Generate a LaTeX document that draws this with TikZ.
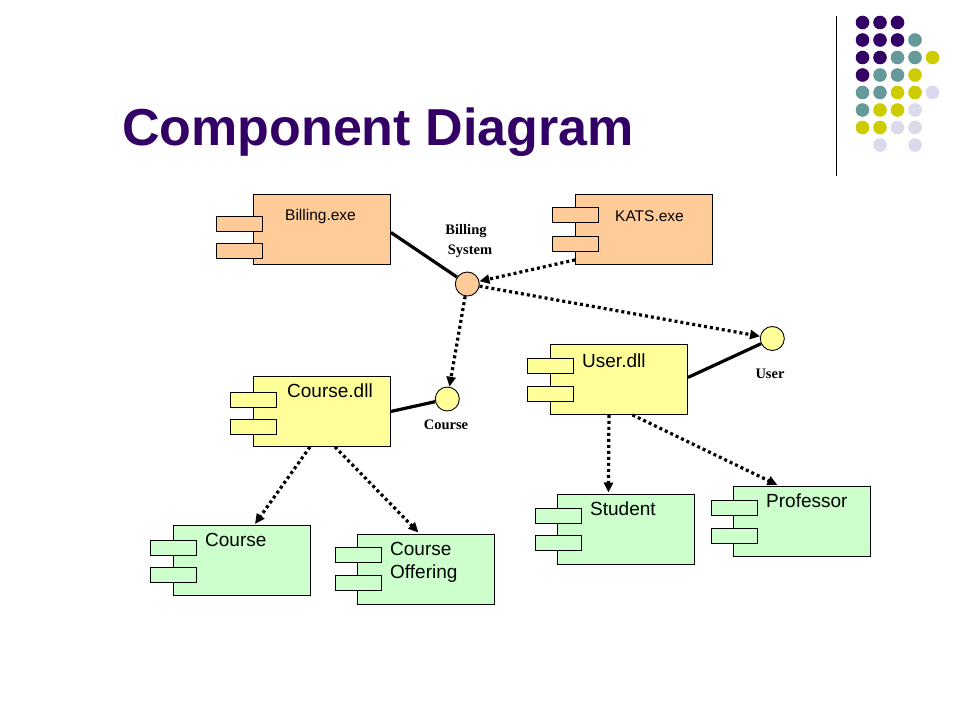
\documentclass[tikz,border=0pt]{standalone}
\usepackage{fontspec}
\setmainfont{Liberation Sans}
\newfontfamily\serifb{Liberation Serif}
\usetikzlibrary{arrows.meta,calc}
\definecolor{titlepurple}{HTML}{330066}
\definecolor{dotteal}{HTML}{669999}
\definecolor{dotyellow}{HTML}{CCCC00}
\definecolor{dotlav}{HTML}{DADAEC}
\definecolor{exefill}{HTML}{FFCC99}
\definecolor{dllfill}{HTML}{FFFF99}
\definecolor{clsfill}{HTML}{CCFFCC}
\begin{document}
\begin{tikzpicture}[x=1pt,y=-1pt,
  comp/.style={draw=black, line width=0.9pt, minimum width=137pt, minimum height=70pt, inner sep=0pt, anchor=north west},
  tabbox/.style={draw=black, line width=0.9pt, minimum width=46pt, minimum height=15pt, inner sep=0pt, anchor=north west},
  iface/.style={circle, draw=black, line width=0.9pt, minimum size=24pt, inner sep=0pt},
  smalltxt/.style={inner sep=0pt, anchor=base west, font=\fontsize{15.5}{18}\selectfont},
  bigtxt/.style={inner sep=0pt, anchor=base west, font=\fontsize{19}{24}\selectfont},
  ifacetxt/.style={inner sep=0pt, anchor=base, font=\serifb\bfseries\fontsize{14.5}{20}\selectfont},
  solidlink/.style={line width=3.2pt},
  deplink/.style={line width=3.2pt, dash pattern=on 3pt off 3pt, -{Triangle[length=10pt,width=9pt]}},
  dotP/.style={fill=titlepurple},
  dotT/.style={fill=dotteal},
  dotY/.style={fill=dotyellow},
  dotL/.style={fill=dotlav}]
\useasboundingbox (0,0) rectangle (960,720);
\fill[white] (0,0) rectangle (960,720);

% title
\node[inner sep=0pt, anchor=base west, text=titlepurple, font=\bfseries\fontsize{52}{60}\selectfont] (title) at (122,145) {Component Diagram};

% decoration
\draw[line width=1.3pt] (836.5,16) -- (836.5,176);
\foreach \c/\x/\y in {P/0/0,P/1/0,P/2/0,
  P/0/1,P/1/1,P/2/1,T/3/1,
  P/0/2,P/1/2,T/2/2,T/3/2,Y/4/2,
  P/0/3,T/1/3,T/2/3,Y/3/3,
  T/0/4,T/1/4,Y/2/4,Y/3/4,L/4/4,
  T/0/5,Y/1/5,Y/2/5,L/3/5,
  Y/0/6,Y/1/6,L/2/6,L/3/6,
  L/1/7,L/3/7}
  \fill[dot\c] ({862.5+17.5*\x},{22.5+17.5*\y}) circle (6.8);

% components
\node[comp, fill=exefill] (billing) at (253,194) {};
\node[tabbox, fill=exefill] (billing-t1) at (216,216) {};
\node[tabbox, fill=exefill] (billing-t2) at (216,243) {};
\node[smalltxt] (billing-l) at (285,220) {Billing.exe};

\node[comp, fill=exefill] (kats) at (575,194) {};
\node[tabbox, fill=exefill] (kats-t1) at (552,207) {};
\node[tabbox, fill=exefill] (kats-t2) at (552,235.5) {};
\node[smalltxt] (kats-l) at (615,221) {KATS.exe};

\node[comp, fill=dllfill] (coursedll) at (253,376) {};
\node[tabbox, fill=dllfill] (coursedll-t1) at (230,391.5) {};
\node[tabbox, fill=dllfill] (coursedll-t2) at (230,418.5) {};
\node[bigtxt] (coursedll-l) at (287,397.5) {Course.dll};

\node[comp, fill=dllfill] (userdll) at (550,344) {};
\node[tabbox, fill=dllfill] (userdll-t1) at (527,358) {};
\node[tabbox, fill=dllfill] (userdll-t2) at (527,385.5) {};
\node[bigtxt] (userdll-l) at (582,367.5) {User.dll};

\node[comp, fill=clsfill] (course) at (173,525) {};
\node[tabbox, fill=clsfill] (course-t1) at (150,539.5) {};
\node[tabbox, fill=clsfill] (course-t2) at (150,567) {};
\node[bigtxt] (course-l) at (205,546.5) {Course};

\node[comp, fill=clsfill] (offering) at (357,533.5) {};
\node[tabbox, fill=clsfill] (offering-t1) at (334.5,547) {};
\node[tabbox, fill=clsfill] (offering-t2) at (334.5,575) {};
\node[bigtxt] (offering-l1) at (390,555) {Course};
\node[bigtxt] (offering-l2) at (390,578.5) {Offering};

\node[comp, fill=clsfill] (student) at (557,493.5) {};
\node[tabbox, fill=clsfill] (student-t1) at (535,507.5) {};
\node[tabbox, fill=clsfill] (student-t2) at (535,535) {};
\node[bigtxt] (student-l) at (590,515) {Student};

\node[comp, fill=clsfill] (professor) at (733,486) {};
\node[tabbox, fill=clsfill] (professor-t1) at (711,499.5) {};
\node[tabbox, fill=clsfill] (professor-t2) at (711,527.5) {};
\node[bigtxt] (professor-l) at (766,507.5) {Professor};

% interfaces
\node[iface, fill=exefill] (bsys) at (467.3,284) {};
\node[iface, fill=dllfill] (useri) at (772.3,338.5) {};
\node[iface, fill=dllfill] (coursei) at (447.3,399) {};
\node[ifacetxt] (bsys-l1) at (466,234.5) {Billing};
\node[ifacetxt] (bsys-l2) at (470,254.5) {System};
\node[ifacetxt] (useri-l) at (770,378.5) {User};
\node[ifacetxt] (coursei-l) at (446,429.5) {Course};

% connectors
\draw[solidlink] ($(billing.east)+(0,3)$) -- (bsys);
\draw[solidlink] ($(userdll.east)+(0,-2)$) -- (useri);
\draw[solidlink] (coursedll.east) -- (coursei);
\draw[deplink] ($(kats.south west)+(0,-5)$) -- (bsys);
\draw[deplink] (bsys) -- (useri);
\draw[deplink] (bsys) -- (coursei);
\draw[deplink] ($(coursedll.south)+(-12,0)$) -- ($(course.north)+(13,-1)$);
\draw[deplink] ($(coursedll.south)+(13,0)$) -- ($(offering.north)+(-7.5,-1)$);
\draw[deplink] ($(userdll.south)+(-10,0)$) -- ($(student.north)+(-17.5,-1)$);
\draw[deplink] ($(userdll.south)+(13.5,0)$) -- ($(professor.north)+(-24.5,-1)$);
\end{tikzpicture}
\end{document}
